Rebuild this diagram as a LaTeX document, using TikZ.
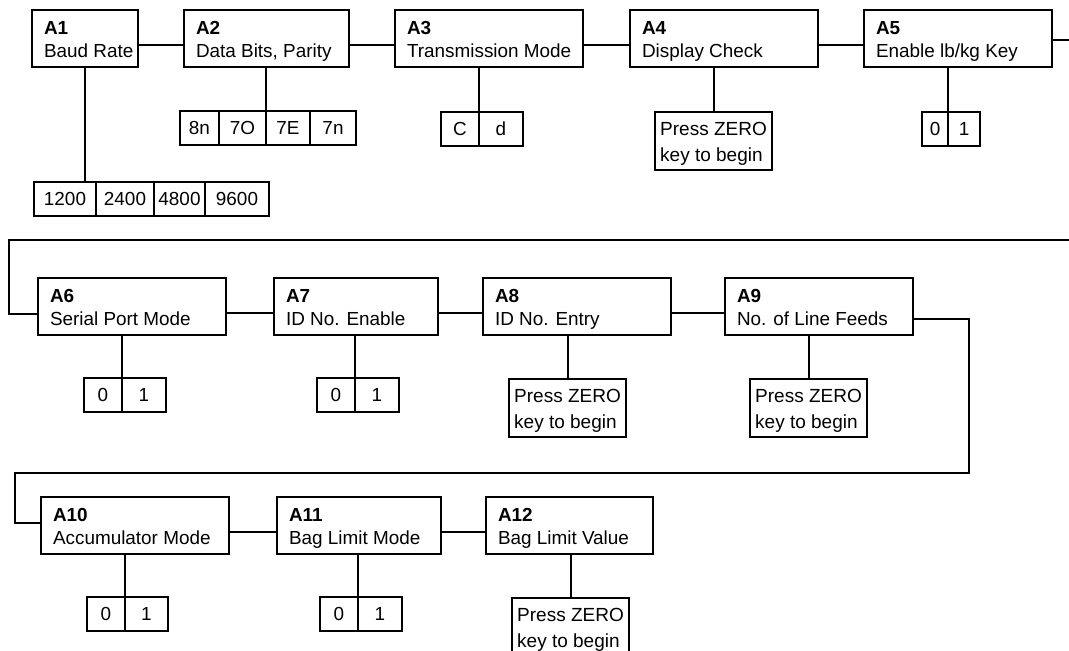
\documentclass[tikz,border=0pt]{standalone}
\usepackage{fontspec}
\setmainfont{Liberation Sans}
\usetikzlibrary{positioning}

\newcommand{\steptext}[3]{\vbox to 57pt{\kern11.5pt\hbox to #1{\textbf{#2}\hfil}\vss\hbox to #1{\smash{#3}\hfil}\kern9.5pt}}
\newcommand{\presstext}{\vbox to 58pt{\fontsize{19pt}{25pt}\selectfont\kern10pt\hbox{Press ZERO}\vss\hbox{\smash{key to begin}}\kern8.5pt}}

\tikzset{
  stepbox/.style={draw, line width=2pt, anchor=north west, inner xsep=12pt, inner ysep=0pt},
  cell/.style={draw, line width=2pt, outer sep=0pt, inner sep=0pt, minimum height=34pt},
  pressbox/.style={draw, line width=2pt, anchor=north west, inner xsep=4pt, inner ysep=0pt, minimum width=117pt},
  link/.style={line width=2pt}
}

\begin{document}
\begin{tikzpicture}[x=1pt, y=-1pt, font=\fontsize{18.9pt}{23pt}\selectfont]
\useasboundingbox (0,0) rectangle (1069,651);

% row 1
\node[stepbox] (a1) at (31,9) {\steptext{82pt}{A1}{Baud Rate}};
\node[stepbox] (a2) at (183,9) {\steptext{141pt}{A2}{Data Bits, Parity}};
\node[stepbox] (a3) at (394,9) {\steptext{164pt}{A3}{Transmission Mode}};
\node[stepbox] (a4) at (629,9) {\steptext{164pt}{A4}{Display Check}};
\node[stepbox] (a5) at (863,9) {\steptext{164pt}{A5}{Enable lb/kg Key}};

\node[cell, anchor=north west, minimum width=62pt] (a1o1) at (34,182) {1200};
\node[cell, right=0pt of a1o1, minimum width=58pt] (a1o2) {2400};
\node[cell, right=0pt of a1o2, minimum width=51pt] (a1o3) {4800};
\node[cell, right=0pt of a1o3, minimum width=64pt] (a1o4) {9600};

\node[cell, anchor=north west, minimum width=39pt] (a2o1) at (180,111) {8n};
\node[cell, right=0pt of a2o1, minimum width=47pt] (a2o2) {7O};
\node[cell, right=0pt of a2o2, minimum width=44pt] (a2o3) {7E};
\node[cell, right=0pt of a2o3, minimum width=46pt] (a2o4) {7n};

\node[cell, anchor=north west, minimum width=38pt] (a3o1) at (441,112) {C};
\node[cell, right=0pt of a3o1, minimum width=44pt] (a3o2) {d};

\node[pressbox] (a4p) at (654,111) {\presstext};

\node[cell, anchor=north west, minimum width=26pt] (a5o1) at (922,112) {0};
\node[cell, right=0pt of a5o1, minimum width=32pt] (a5o2) {1};

% row 2
\node[stepbox] (a6) at (37,277) {\steptext{164pt}{A6}{Serial Port Mode}};
\node[stepbox] (a7) at (273,277) {\steptext{140pt}{A7}{ID No. Enable}};
\node[stepbox] (a8) at (482,277) {\steptext{164pt}{A8}{ID No. Entry}};
\node[stepbox] (a9) at (724,277) {\steptext{164pt}{A9}{No. of Line Feeds}};

\node[cell, anchor=north west, minimum width=38pt] (a6o1) at (84,378) {0};
\node[cell, right=0pt of a6o1, minimum width=44pt] (a6o2) {1};
\node[cell, anchor=north west, minimum width=38pt] (a7o1) at (317,378) {0};
\node[cell, right=0pt of a7o1, minimum width=44pt] (a7o2) {1};
\node[pressbox] (a8p) at (508,378) {\presstext};
\node[pressbox] (a9p) at (749,378) {\presstext};

% row 3
\node[stepbox] (a10) at (40,496) {\steptext{164pt}{A10}{Accumulator Mode}};
\node[stepbox] (a11) at (276,496) {\steptext{140pt}{A11}{Bag Limit Mode}};
\node[stepbox] (a12) at (485,496) {\steptext{143pt}{A12}{Bag Limit Value}};

\node[cell, anchor=north west, minimum width=38pt] (a10o1) at (87,597) {0};
\node[cell, right=0pt of a10o1, minimum width=43pt] (a10o2) {1};
\node[cell, anchor=north west, minimum width=38pt] (a11o1) at (320,597) {0};
\node[cell, right=0pt of a11o1, minimum width=44pt] (a11o2) {1};
\node[pressbox] (a12p) at (511,597) {\presstext};

% links along each row
\foreach \p/\q in {a1/a2,a2/a3,a3/a4,a4/a5,a6/a7,a7/a8,a8/a9,a10/a11,a11/a12}
  \draw[link] ([yshift=-6pt]\p.east) -- ([yshift=-6pt]\q.west);

% links down to the choices
\draw[link] (a1.south) -- (a1.south |- a1o1.north);
\foreach \o/\s in {a2o2/a2,a3o1/a3,a5o1/a5,a6o1/a6,a7o1/a7,a10o1/a10,a11o1/a11}
  \draw[link] (\o.north east) -- (\o.north east |- \s.south);
\foreach \o/\s in {a4p/a4,a8p/a8,a9p/a9,a12p/a12}
  \draw[link] (\o.north) -- (\o.north |- \s.south);

% wrap from row to row
\coordinate (r1out) at (1072,0);
\coordinate (r2in) at (1072,240);
\coordinate (r2bend) at (9,240);
\coordinate (r3bend) at (969,473);
\coordinate (r3left) at (15,473);
\draw[link] ([yshift=-1.5pt]a5.east) -- ([yshift=-1.5pt]a5.east -| r1out);
\draw[link] (r2in) -- (r2bend) |- ([yshift=-7.5pt]a6.west);
\draw[link] ([yshift=-12.5pt]a9.east) -| (r3bend) -- (r3left) |- ([yshift=2.5pt]a10.west);
\end{tikzpicture}
\end{document}
